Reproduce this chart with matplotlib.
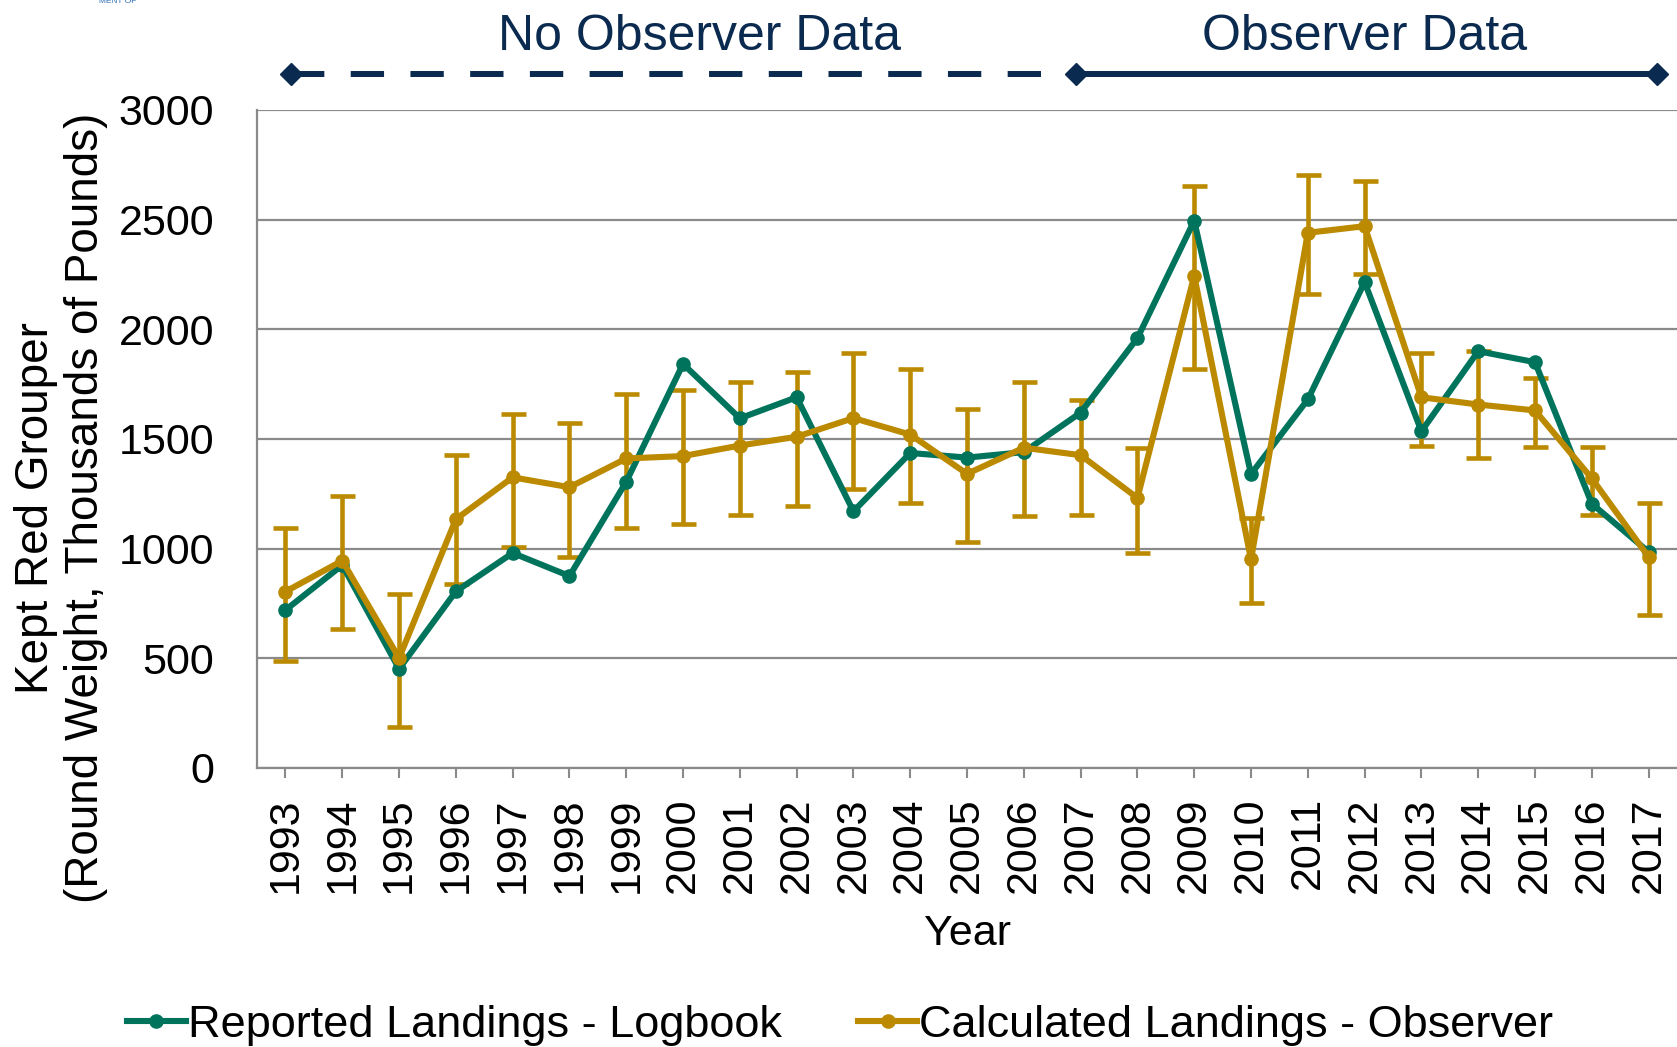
import matplotlib
matplotlib.use("Agg")
import matplotlib.pyplot as plt
import matplotlib.transforms as mtransforms
import numpy as np

plt.rcParams["font.family"] = ["Liberation Sans", "DejaVu Sans"]
plt.rcParams["lines.scale_dashes"] = False

# 数据
years = list(range(1993, 2018))
logbook = [720, 925, 452, 805, 980, 875, 1305, 1842, 1594, 1690,
           1170, 1436, 1415, 1440, 1620, 1960, 2495, 1340, 1680, 2215,
           1535, 1900, 1850, 1205, 985]
observer = [804, 945, 501, 1134, 1325, 1280, 1411, 1422, 1470, 1510,
            1595, 1520, 1341, 1460, 1426, 1231, 2244, 951, 2440, 2470,
            1690, 1657, 1630, 1320, 962]
observer_low = [486, 633, 185, 840, 1006, 964, 1093, 1112, 1153, 1196,
                1273, 1206, 1028, 1150, 1155, 981, 1818, 752, 2163, 2250,
                1468, 1411, 1462, 1155, 697]
observer_high = [1096, 1241, 792, 1426, 1616, 1571, 1703, 1722, 1760, 1806,
                 1890, 1818, 1636, 1761, 1676, 1458, 2655, 1140, 2705, 2674,
                 1890, 1903, 1777, 1464, 1208]
y_ticks = [0, 500, 1000, 1500, 2000, 2500, 3000]
series_names = ["Reported Landings - Logbook", "Calculated Landings - Observer"]
period_labels = ["No Observer Data", "Observer Data"]

GREEN = "#00735C"
GOLD = "#BB8A00"
NAVY = "#0B2A4F"
GRID = "#8A8A8A"

fig = plt.figure(figsize=(16.77, 10.47), dpi=100)
ax = fig.add_axes([0.1533, 0.2665, 0.8467, 0.6285])

obs = np.array(observer, dtype=float)
yerr = np.vstack([obs - np.array(observer_low), np.array(observer_high) - obs])
ax.errorbar(years, observer, yerr=yerr, fmt="none", ecolor=GOLD,
            elinewidth=3.3, capsize=9, capthick=3.3, zorder=3)
ax.plot(years, logbook, color=GREEN, lw=4.4, marker="o", ms=9.5,
        label=series_names[0], zorder=4)
ax.plot(years, observer, color=GOLD, lw=4.4, marker="o", ms=9.5,
        label=series_names[1], zorder=5)

# 顶部分段箭头
trans = mtransforms.blended_transform_factory(ax.transData, ax.transAxes)
y_arrow = 1.0547
ax.plot([1993.1, 2006.32], [y_arrow, y_arrow], transform=trans, color=NAVY,
        lw=4.3, dashes=(24, 19), dash_capstyle="butt", clip_on=False)
ax.plot([1993.1], [y_arrow], transform=trans, color=NAVY, marker="D", ms=11,
        ls="none", clip_on=False)
ax.plot([2006.92, 2017.15], [y_arrow, y_arrow], transform=trans, color=NAVY,
        lw=4.3, marker="D", ms=11, clip_on=False)
ax.text(2000.29, 1.091, period_labels[0], transform=trans, ha="center",
        va="baseline", fontsize=36, color=NAVY)
ax.text(2012.0, 1.091, period_labels[1], transform=trans, ha="center",
        va="baseline", fontsize=36, color=NAVY)

ax.set_xlim(1992.5, 2017.5)
ax.set_ylim(0, 3000)
ax.set_yticks(y_ticks)
ax.set_xticks(years)
ax.set_xticklabels([str(y) for y in years])
ax.yaxis.grid(True, color=GRID, lw=1.6)
ax.set_axisbelow(True)
for side in ["top", "right"]:
    ax.spines[side].set_visible(False)
for side in ["left", "bottom"]:
    ax.spines[side].set_color(GRID)
    ax.spines[side].set_linewidth(1.6)
ax.tick_params(axis="y", length=0, pad=31, labelsize=31)
ax.tick_params(axis="x", length=7, width=1.5, color=GRID, direction="out",
               pad=14, labelsize=31, labelrotation=90)

ax.set_xlabel("Year", fontsize=31)
ax.xaxis.set_label_coords(0.5, -0.222)
fig.text(0.0362, 0.515, "Kept Red Grouper\n(Round Weight, Thousands of Pounds)",
         rotation=90, ha="center", va="center", fontsize=33,
         multialignment="center", linespacing=1.17)

fig.text(0.070, 0.999, "MENT OF", fontsize=6, color="#2f6db5",
         ha="center", va="center")

fig.legend(loc="center", bbox_to_anchor=(0.501, 0.021), ncol=2, frameon=False,
           fontsize=32.5, handlelength=1.3, handletextpad=0.05, columnspacing=1.7,
           borderaxespad=0, borderpad=0)

fig.savefig("out.png", dpi=100)
